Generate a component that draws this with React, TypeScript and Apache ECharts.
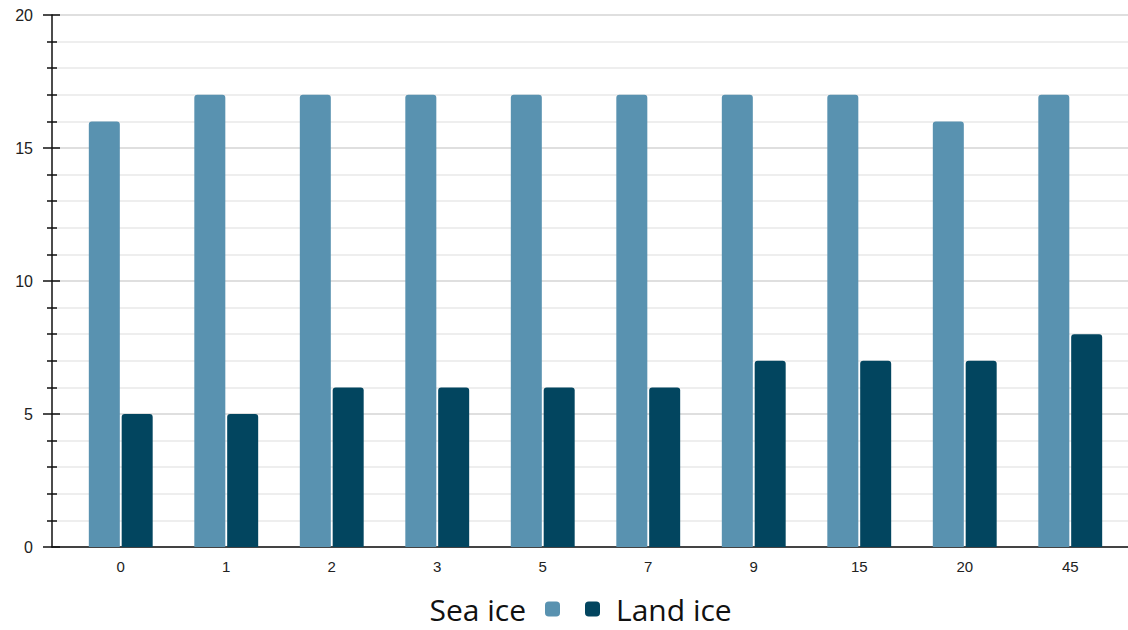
import React, { useEffect, useRef } from "react";
import * as echarts from "echarts";

const categories = ["0", "1", "2", "3", "5", "7", "9", "15", "20", "45"];
const seaIce = [16, 17, 17, 17, 17, 17, 17, 17, 16, 17];
const landIce = [5, 5, 6, 6, 6, 6, 7, 7, 7, 8];
const yMin = 0;
const yMax = 20;
const yInterval = 5;

const SEA = "#5992b0";
const LAND = "#02455f";

export default function App() {
  const ref = useRef<HTMLDivElement>(null);
  useEffect(() => {
    if (!ref.current) return;
    const chart = echarts.init(ref.current, undefined, { renderer: "svg" });
    const top = 15;
    const bottom = 83;
    chart.setOption({
      animation: false,
      grid: [
        { left: 52, right: 0, top, bottom },
        { left: 68, right: 5, top, bottom },
      ],
      xAxis: [
        {
          gridIndex: 0,
          type: "value",
          min: 0,
          max: 1,
          axisLine: { show: true, onZero: false, lineStyle: { color: "#111", width: 1.5 } },
          axisTick: { show: false },
          axisLabel: { show: false },
          splitLine: { show: false },
        },
        {
          gridIndex: 1,
          type: "category",
          data: categories,
          axisLine: { show: false },
          axisTick: { show: false },
          axisLabel: {
            fontFamily: "Liberation Sans",
            fontSize: 15,
            color: "#222",
            margin: 12,
          },
        },
      ],
      yAxis: [
        {
          gridIndex: 0,
          type: "value",
          position: "left",
          min: yMin,
          max: yMax,
          interval: yInterval,
          axisLine: { show: true, lineStyle: { color: "#111", width: 1.5 } },
          axisTick: { show: true, length: 9, lineStyle: { color: "#111", width: 1.5 } },
          minorTick: { show: true, splitNumber: 5, length: 5, lineStyle: { color: "#111", width: 1.5 } },
          axisLabel: { show: false },
          splitLine: { show: true, lineStyle: { color: "#d4d4d4", width: 1.5 } },
          minorSplitLine: { show: true, lineStyle: { color: "#e8e8e8", width: 1.5 } },
        },
        {
          gridIndex: 0,
          type: "value",
          min: yMin,
          max: yMax,
          interval: yInterval,
          position: "left",
          axisLine: { show: false },
          axisTick: { show: true, inside: true, length: 8, lineStyle: { color: "#111", width: 1.5 } },
          minorTick: { show: true, splitNumber: 5, length: 5, lineStyle: { color: "#111", width: 1.5 } },
          axisLabel: { show: false },
          splitLine: { show: false },
        },
        {
          gridIndex: 1,
          type: "value",
          min: yMin,
          max: yMax,
          show: false,
        },
        {
          gridIndex: 0,
          type: "value",
          position: "left",
          offset: 11,
          min: yMin,
          max: yMax,
          interval: yInterval,
          axisLine: { show: false },
          axisTick: { show: false },
          splitLine: { show: false },
          axisLabel: {
            fontFamily: "Liberation Sans",
            fontSize: 16,
            color: "#222",
            margin: 8,
          },
        },
      ],
      legend: [
        {
          data: ["Sea ice"],
          right: 563,
          top: 589,
          align: "right",
          icon: "roundRect",
          itemWidth: 15,
          itemHeight: 15,
          textStyle: {
            fontFamily: "Open Sans",
            fontSize: 30,
            lineHeight: 30,
            color: "#111",
            padding: [0, 14, 0, 0],
          },
        },
        {
          data: ["Land ice"],
          left: 580,
          top: 589,
          align: "left",
          icon: "roundRect",
          itemWidth: 15,
          itemHeight: 15,
          textStyle: {
            fontFamily: "Open Sans",
            fontSize: 30,
            lineHeight: 30,
            color: "#111",
            padding: [0, 0, 0, 11],
          },
        },
      ],
      series: [
        {
          name: "Sea ice",
          type: "bar",
          xAxisIndex: 1,
          yAxisIndex: 2,
          data: seaIce,
          barWidth: 31,
          barGap: "6%",
          itemStyle: { color: SEA, borderRadius: [3, 3, 0, 0] },
        },
        {
          name: "Land ice",
          type: "bar",
          xAxisIndex: 1,
          yAxisIndex: 2,
          data: landIce,
          barWidth: 31,
          barGap: "6%",
          itemStyle: { color: LAND, borderRadius: [3, 3, 0, 0] },
        },
      ],
    });
    return () => chart.dispose();
  }, []);
  return <div ref={ref} style={{ width: 1128, height: 630, position: "absolute", left: 0, top: 0 }} />;
}
